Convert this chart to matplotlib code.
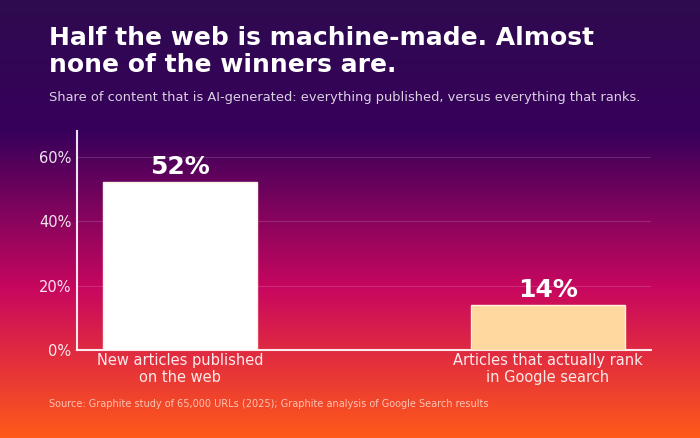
import numpy as np
import matplotlib
matplotlib.use('Agg')
import matplotlib.pyplot as plt
from matplotlib.colors import LinearSegmentedColormap
from matplotlib.ticker import FuncFormatter

categories = ['New articles published\non the web', 'Articles that actually rank\nin Google search']
values = [52, 14]
bar_colors = ['#ffffff', '#ffd89f']
yticks = [0, 20, 40, 60]

title = 'Half the web is machine-made. Almost\nnone of the winners are.'
subtitle = 'Share of content that is AI-generated: everything published, versus everything that ranks.'
source = 'Source: Graphite study of 65,000 URLs (2025); Graphite analysis of Google Search results'

fig = plt.figure(figsize=(7, 4.38), dpi=100)

# background gradient
bg = fig.add_axes([0, 0, 1, 1], zorder=-1)
cmap = LinearSegmentedColormap.from_list('bg', [
    (0.0, '#2e0b4f'), (0.30, '#37005b'), (0.66, '#c8075f'), (1.0, '#ff5a19')])
grad = np.linspace(0, 1, 256).reshape(-1, 1)
bg.imshow(grad, aspect='auto', cmap=cmap, extent=[0, 1, 1, 0])
bg.set_xlim(0, 1)
bg.set_ylim(1, 0)
bg.axis('off')

ax = fig.add_axes([0.11, 0.201, 0.82, 0.50])
ax.patch.set_alpha(0)

x = np.arange(len(values))
bars = ax.bar(x, values, width=0.42, color=bar_colors, edgecolor='#fff3e0', linewidth=1, zorder=3)
for b, v in zip(bars, values):
    ax.text(b.get_x() + b.get_width() / 2, v + 1, f'{v}%', ha='center', va='bottom',
            fontsize=18, fontweight='bold', color='white', zorder=4)

ax.set_xlim(-0.28, 1.28)
ax.set_ylim(0, 68)
ax.set_yticks(yticks)
ax.yaxis.set_major_formatter(FuncFormatter(lambda v, p: f'{v:.0f}%'))
ax.set_xticks(x)
ax.set_xticklabels(categories)
ax.tick_params(axis='both', length=0, labelsize=10.5, colors=(1, 1, 1, 0.9))
ax.tick_params(axis='x', pad=2)
ax.tick_params(axis='y', pad=4)
ax.grid(axis='y', color='white', alpha=0.15, linewidth=0.8, zorder=0)
for s in ['top', 'right']:
    ax.spines[s].set_visible(False)
for s in ['left', 'bottom']:
    ax.spines[s].set_color((1, 1, 1, 0.9))
    ax.spines[s].set_linewidth(1.5)

fig.text(0.07, 0.94, title, fontsize=18, fontweight='bold', color='white', va='top', linespacing=1.15)
fig.text(0.07, 0.777, subtitle, fontsize=9.35, color=(1, 1, 1, 0.82), va='center')
fig.text(0.07, 0.077, source, fontsize=7, color=(1, 0.85, 0.8, 0.85), va='center')

plt.savefig('out.png', dpi=100)
